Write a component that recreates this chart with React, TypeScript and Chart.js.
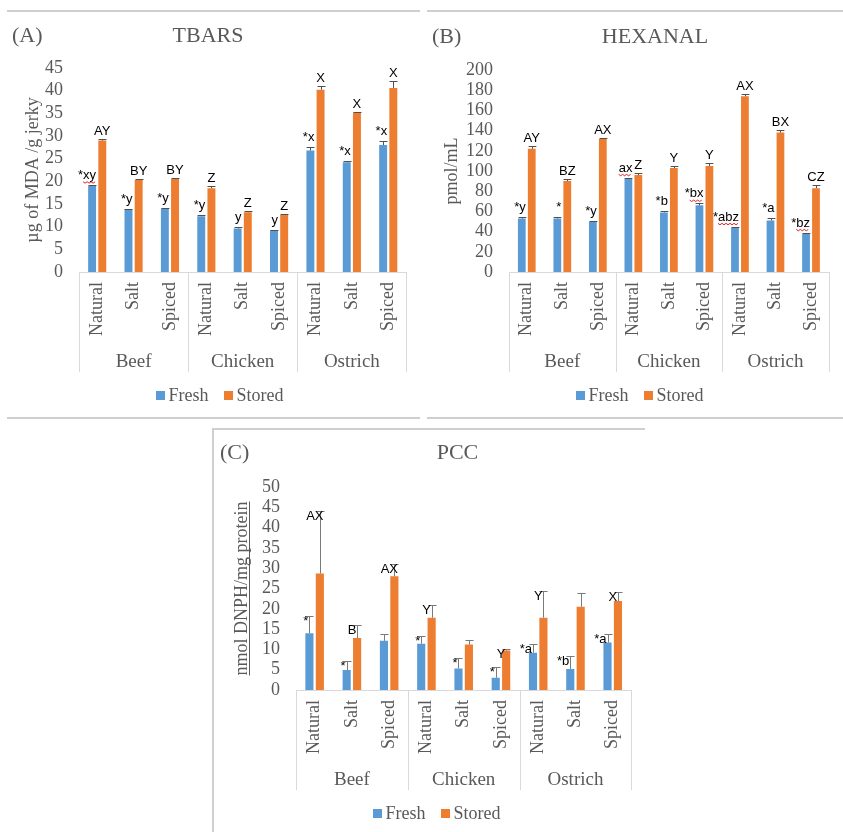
import React, { useEffect, useRef } from 'react';
import { Chart, registerables } from 'chart.js';

Chart.register(...registerables);

const SERIF = '"Liberation Serif", "Times New Roman", Times, serif';
const SANS = '"Liberation Sans", Arial, Helvetica, sans-serif';
const GREY = '#595959';
const FRESH_COLOR = '#5B9BD5';
const STORED_COLOR = '#ED7D31';

const treatments = ['Natural', 'Salt', 'Spiced', 'Natural', 'Salt', 'Spiced', 'Natural', 'Salt', 'Spiced'];
const meats = ['Beef', 'Chicken', 'Ostrich'];
const seriesNames = ['Fresh', 'Stored'];

// (A) TBARS
const tbarsFresh = [19.0, 13.8, 14.0, 12.3, 9.6, 9.2, 26.8, 24.2, 28.0];
const tbarsFreshErr = [0.2, 0.2, 0.2, 0.3, 0.3, 0.1, 0.8, 0.3, 0.9];
const tbarsStored = [29.0, 20.3, 20.5, 18.5, 13.2, 12.6, 40.2, 35.2, 40.6];
const tbarsStoredErr = [0.3, 0.2, 0.2, 0.5, 0.3, 0.2, 0.9, 0.2, 1.5];
const tbarsFreshLabels = ['*xy', '*y', '*y', '*y', 'y', 'y', '*x', '*x', '*x'];
const tbarsStoredLabels = ['AY', 'BY', 'BY', 'Z', 'Z', 'Z', 'X', 'X', 'X'];
const tbarsFlagged = ['*xy'];

// (B) HEXANAL
const hexFresh = [53, 53, 50, 92, 59, 66, 44, 51, 38];
const hexFreshErr = [1, 1, 0.5, 1.5, 1.5, 2, 1, 2, 1];
const hexStored = [122, 90, 132, 96, 103, 105, 174, 138, 83];
const hexStoredErr = [2.5, 2, 1, 2, 2, 3, 2, 3, 3];
const hexFreshLabels = ['*y', '*', '*y', 'ax', '*b', '*bx', '*abz', '*a', '*bz'];
const hexStoredLabels = ['AY', 'BZ', 'AX', 'Z', 'Y', 'Y', 'AX', 'BX', 'CZ'];
const hexFlagged = ['ax', '*bx', '*abz', '*bz'];

// (C) PCC
const pccFresh = [14.0, 4.9, 12.1, 11.4, 5.3, 3.0, 9.2, 5.2, 11.7];
const pccFreshErr = [4.2, 2.2, 1.8, 1.9, 2.5, 2.7, 2.2, 3.2, 2.1];
const pccStored = [28.7, 12.8, 28.0, 17.8, 11.2, 9.7, 17.8, 20.5, 21.9];
const pccStoredErr = [15.5, 3.3, 3.0, 3.1, 1.2, 0.5, 6.6, 3.5, 2.3];
const pccFreshLabels = ['*', '*', '', '*', '*', '*', '*a', '*b', '*a'];
const pccStoredLabels = ['AX', 'B', 'AX', 'Y', '', 'Y', 'Y', '', 'X'];
const pccFlagged: string[] = [];

interface Panel {
  tag: string;
  title: string;
  yTitle: string;
  max: number;
  step: number;
  fresh: number[];
  freshErr: number[];
  stored: number[];
  storedErr: number[];
  freshLabels: string[];
  storedLabels: string[];
  flagged: string[];
  box: { x: number; y: number; w: number; h: number };
  padT: number;
  padR: number;
  yWidth: number;
  xHeight: number;
  yTitlePad: number;
  tagX: number;
  titleX: number;
  titleY: number;
  legendX: number;
  freshDx: number;
  storedDx: number;
  freshDy: number;
  storedDy: number;
  errColor: string;
  underline: boolean;
}

const panels: Panel[] = [
  {
    tag: '(A)', title: 'TBARS', yTitle: 'µg of MDA /g jerky', max: 45, step: 5,
    fresh: tbarsFresh, freshErr: tbarsFreshErr, stored: tbarsStored, storedErr: tbarsStoredErr,
    freshLabels: tbarsFreshLabels, storedLabels: tbarsStoredLabels, flagged: tbarsFlagged,
    box: { x: 0, y: 12, w: 420, h: 406 }, padT: 56, padR: 3, yWidth: 79, xHeight: 146, yTitlePad: 22,
    tagX: 12, titleX: 208, titleY: 30, legendX: 219.5,
    freshDx: 4, storedDx: 0, freshDy: -6, storedDy: -4, errColor: '#505050', underline: false,
  },
  {
    tag: '(B)', title: 'HEXANAL', yTitle: 'pmol/mL', max: 200, step: 20,
    fresh: hexFresh, freshErr: hexFreshErr, stored: hexStored, storedErr: hexStoredErr,
    freshLabels: hexFreshLabels, storedLabels: hexStoredLabels, flagged: hexFlagged,
    box: { x: 427, y: 12, w: 416, h: 406 }, padT: 58, padR: 7, yWidth: 82, xHeight: 146, yTitlePad: 14,
    tagX: 5, titleX: 228, titleY: 31, legendX: 212.5,
    freshDx: 4, storedDx: 0, freshDy: -6, storedDy: -4, errColor: '#505050', underline: false,
  },
  {
    tag: '(C)', title: 'PCC', yTitle: 'nmol DNPH/mg protein', max: 50, step: 5,
    fresh: pccFresh, freshErr: pccFreshErr, stored: pccStored, storedErr: pccStoredErr,
    freshLabels: pccFreshLabels, storedLabels: pccStoredLabels, flagged: pccFlagged,
    box: { x: 215, y: 430, w: 430, h: 402 }, padT: 57, padR: 12, yWidth: 81, xHeight: 142, yTitlePad: 16,
    tagX: 5, titleX: 242.5, titleY: 29, legendX: 221.5,
    freshDx: -1, storedDx: -5, freshDy: 9, storedDy: 9, errColor: '#7a7a7a', underline: true,
  },
];

function makePlugin(p: Panel) {
  return {
    id: 'panelDecor',
    afterDatasetsDraw(chart: any) {
      const ctx = chart.ctx as CanvasRenderingContext2D;
      const ys = chart.scales.y;
      const sets = [
        { vals: p.fresh, errs: p.freshErr, labels: p.freshLabels, fresh: true },
        { vals: p.stored, errs: p.storedErr, labels: p.storedLabels, fresh: false },
      ];
      ctx.save();
      sets.forEach((s, di) => {
        chart.getDatasetMeta(di).data.forEach((bar: any, i: number) => {
          const { x, width } = bar.getProps(['x', 'width'], true);
          const yTop = ys.getPixelForValue(s.vals[i]);
          const yCap = Math.round(ys.getPixelForValue(s.vals[i] + s.errs[i])) + 0.5;
          const cx = Math.round(x) + 0.5;
          ctx.strokeStyle = p.errColor;
          ctx.lineWidth = 1;
          ctx.beginPath();
          ctx.moveTo(cx, yTop);
          ctx.lineTo(cx, yCap);
          ctx.moveTo(cx - width / 2, yCap);
          ctx.lineTo(cx + width / 2, yCap);
          ctx.stroke();
        });
      });
      ctx.font = `13px ${SANS}`;
      ctx.fillStyle = '#000';
      ctx.textBaseline = 'alphabetic';
      sets.forEach((s, di) => {
        chart.getDatasetMeta(di).data.forEach((bar: any, i: number) => {
          const text = s.labels[i];
          if (!text) return;
          const { x } = bar.getProps(['x'], true);
          const yCap = ys.getPixelForValue(s.vals[i] + s.errs[i]);
          if (s.fresh) {
            const tx = x + p.freshDx;
            const ty = yCap + p.freshDy;
            ctx.textAlign = 'right';
            ctx.fillText(text, tx, ty);
            if (p.flagged.includes(text)) {
              const letters = text.replace(/^\*/, '');
              const w = ctx.measureText(letters).width;
              ctx.strokeStyle = '#e02020';
              ctx.lineWidth = 1;
              ctx.beginPath();
              let k = 0;
              for (let xx = tx - w; xx <= tx; xx += 2, k++) {
                const yy = ty + 3 + (k % 2 ? 1.2 : -0.2);
                if (k === 0) ctx.moveTo(xx, yy); else ctx.lineTo(xx, yy);
              }
              ctx.stroke();
            }
          } else {
            ctx.textAlign = 'center';
            ctx.fillText(text, x + p.storedDx, yCap + p.storedDy);
          }
        });
      });
      ctx.restore();
    },
    afterDraw(chart: any) {
      const ctx = chart.ctx as CanvasRenderingContext2D;
      const xs = chart.scales.x;
      const ys = chart.scales.y;
      const axisY = xs.top;
      ctx.save();
      // titles
      ctx.fillStyle = GREY;
      ctx.font = `22px ${SERIF}`;
      ctx.textBaseline = 'alphabetic';
      ctx.textAlign = 'left';
      ctx.fillText(p.tag, p.tagX, p.titleY);
      ctx.textAlign = 'center';
      ctx.fillText(p.title, p.titleX, p.titleY);
      // group separators
      const px = (i: number) => xs.getPixelForValue(i);
      const bounds = [xs.left, (px(2) + px(3)) / 2, (px(5) + px(6)) / 2, xs.right];
      ctx.strokeStyle = '#d9d9d9';
      ctx.lineWidth = 1;
      ctx.beginPath();
      bounds.forEach((bx) => {
        const xx = Math.round(bx) + 0.5;
        ctx.moveTo(xx, axisY);
        ctx.lineTo(xx, axisY + 100);
      });
      ctx.stroke();
      // group labels
      ctx.font = `19px ${SERIF}`;
      ctx.fillStyle = GREY;
      ctx.textAlign = 'center';
      meats.forEach((m, k) => {
        ctx.fillText(m, (px(3 * k) + px(3 * k + 2)) / 2, axisY + 95);
      });
      // legend
      ctx.font = `18px ${SERIF}`;
      const colors = [FRESH_COLOR, STORED_COLOR];
      const widths = seriesNames.map((n) => ctx.measureText(n).width);
      const total = widths.reduce((a, w) => a + 9 + 4 + w, 0) + 15;
      let lx = p.legendX - total / 2;
      const ly = axisY + 128.5;
      ctx.textAlign = 'left';
      seriesNames.forEach((n, i) => {
        ctx.fillStyle = colors[i];
        ctx.fillRect(Math.round(lx), Math.round(ly - 10), 9, 9);
        ctx.fillStyle = GREY;
        ctx.fillText(n, lx + 13, ly);
        lx += 13 + widths[i] + 15;
      });
      // underline of axis title
      if (p.underline) {
        ctx.font = `18px ${SERIF}`;
        const w = ctx.measureText(p.yTitle).width;
        const tx = Math.round(ys.left + p.yTitlePad + 10.8 + 7) + 0.5;
        const yc = (ys.top + ys.bottom) / 2;
        ctx.strokeStyle = GREY;
        ctx.beginPath();
        ctx.moveTo(tx, yc - w / 2);
        ctx.lineTo(tx, yc + w / 2);
        ctx.stroke();
      }
      ctx.restore();
    },
  };
}

function PanelChart({ p }: { p: Panel }) {
  const ref = useRef<HTMLCanvasElement>(null);
  useEffect(() => {
    const font = { family: SERIF, size: 18 };
    const chart = new Chart(ref.current as HTMLCanvasElement, {
      type: 'bar',
      data: {
        labels: treatments,
        datasets: [
          { label: seriesNames[0], data: p.fresh, backgroundColor: FRESH_COLOR, barPercentage: 0.78, categoryPercentage: 0.56 },
          { label: seriesNames[1], data: p.stored, backgroundColor: STORED_COLOR, barPercentage: 0.78, categoryPercentage: 0.56 },
        ],
      },
      options: {
        responsive: false,
        animation: false,
        devicePixelRatio: 1,
        layout: { padding: { left: 0, right: p.padR, top: p.padT, bottom: 0 } },
        plugins: { legend: { display: false }, tooltip: { enabled: false }, title: { display: false } },
        scales: {
          x: {
            grid: { display: false, drawTicks: false },
            border: { display: true, color: '#d9d9d9' },
            ticks: { autoSkip: false, minRotation: 90, maxRotation: 90, padding: 10, font, color: GREY },
            afterFit: (s: any) => { s.height = p.xHeight; },
          },
          y: {
            min: 0,
            max: p.max,
            ticks: { stepSize: p.step, autoSkip: false, padding: 16, font, color: GREY },
            grid: { display: false, drawTicks: false },
            border: { display: false },
            title: { display: true, text: p.yTitle, font, color: GREY, padding: { top: p.yTitlePad, bottom: 0 } },
            afterFit: (s: any) => { s.width = p.yWidth; },
          },
        },
      } as any,
      plugins: [makePlugin(p)],
    });
    return () => chart.destroy();
  }, [p]);
  return (
    <canvas
      ref={ref}
      width={p.box.w}
      height={p.box.h}
      style={{ position: 'absolute', left: p.box.x, top: p.box.y, width: p.box.w, height: p.box.h }}
    />
  );
}

const line = (left: number, top: number, width: number, height: number) => (
  <div style={{ position: 'absolute', left, top, width, height, background: '#cfcfcf' }} />
);

export default function App() {
  return (
    <div style={{ position: 'absolute', left: 0, top: 0, width: 843, height: 832, background: '#fff', overflow: 'hidden' }}>
      {line(7, 10, 413, 2)}
      {line(7, 417, 413, 2)}
      {line(427, 10, 416, 2)}
      {line(427, 417, 416, 2)}
      {line(214, 428, 431, 2)}
      {line(212, 428, 2, 404)}
      {panels.map((p) => (
        <PanelChart key={p.tag} p={p} />
      ))}
    </div>
  );
}
